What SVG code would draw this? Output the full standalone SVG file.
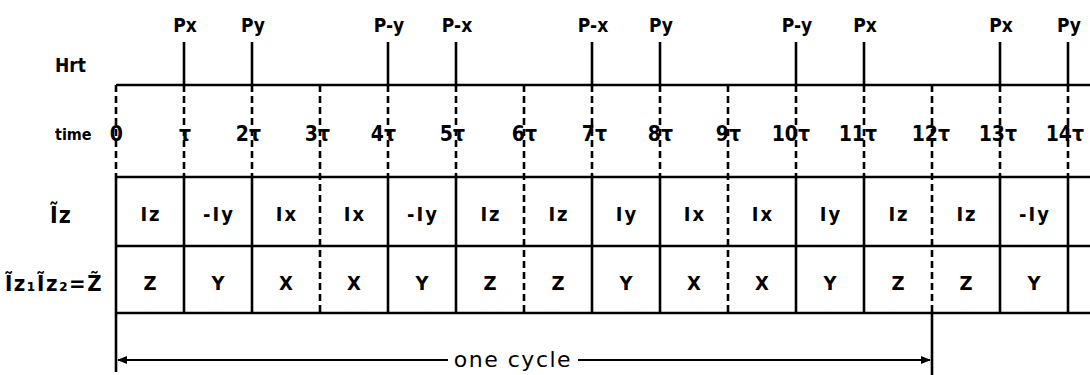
<svg xmlns="http://www.w3.org/2000/svg" width="1090" height="375" viewBox="0 0 1090 375">
<style>
.t{font-family:"DejaVu Sans Condensed","DejaVu Sans",sans-serif;font-weight:bold;fill:#000}
.p{font-size:19px;text-anchor:middle}
.tm{font-size:21px;text-anchor:end}
.c{font-size:20px;text-anchor:middle;letter-spacing:2px}
.s{stroke:#000;stroke-width:2.6;fill:none}
.d{stroke:#000;stroke-width:2.6;fill:none;stroke-dasharray:7 4}
.a{stroke:#000;stroke-width:1.8;fill:none}
</style>
<defs>
<marker id="ah" markerWidth="10" markerHeight="8" refX="9" refY="4" orient="auto" markerUnits="userSpaceOnUse">
<path d="M0,0 L10,4 L0,8 Z" fill="#000"/>
</marker>
</defs>
<rect width="1090" height="375" fill="#fff"/>
<g id="labels">
<text class="t" x="55" y="72" font-size="19">Hrt</text>
<text class="t" x="55" y="140" font-size="16">time</text>
<text class="t" x="50" y="223" font-size="23" letter-spacing="1">Ĩz</text>
<text class="t" x="5" y="291" font-size="22" letter-spacing="1.5">Ĩz₁Ĩz₂=Z̃</text>
</g>
<g id="hrt">
<line class="s" x1="116" y1="85" x2="1090" y2="85"/>
<line class="s" x1="184" y1="42" x2="184" y2="85"/>
<line class="s" x1="252" y1="42" x2="252" y2="85"/>
<line class="s" x1="388" y1="42" x2="388" y2="85"/>
<line class="s" x1="456" y1="42" x2="456" y2="85"/>
<line class="s" x1="592" y1="42" x2="592" y2="85"/>
<line class="s" x1="660" y1="42" x2="660" y2="85"/>
<line class="s" x1="796" y1="42" x2="796" y2="85"/>
<line class="s" x1="864" y1="42" x2="864" y2="85"/>
<line class="s" x1="1000" y1="42" x2="1000" y2="85"/>
<line class="s" x1="1068" y1="42" x2="1068" y2="85"/>
<text class="t p" x="185" y="32">Px</text>
<text class="t p" x="253" y="32">Py</text>
<text class="t p" x="389" y="32">P-y</text>
<text class="t p" x="457" y="32">P-x</text>
<text class="t p" x="593" y="32">P-x</text>
<text class="t p" x="661" y="32">Py</text>
<text class="t p" x="797" y="32">P-y</text>
<text class="t p" x="865" y="32">Px</text>
<text class="t p" x="1001" y="32">Px</text>
<text class="t p" x="1069" y="32">Py</text>
</g>
<g id="time">
<text class="t tm" x="123" y="141">0</text>
<text class="t tm" x="191" y="141">τ</text>
<text class="t tm" x="261" y="141">2τ</text>
<text class="t tm" x="330" y="141">3τ</text>
<text class="t tm" x="396" y="141">4τ</text>
<text class="t tm" x="465" y="141">5τ</text>
<text class="t tm" x="537" y="141">6τ</text>
<text class="t tm" x="607" y="141">7τ</text>
<text class="t tm" x="673" y="141">8τ</text>
<text class="t tm" x="741" y="141">9τ</text>
<text class="t tm" x="810" y="141">10τ</text>
<text class="t tm" x="877" y="141">11τ</text>
<text class="t tm" x="950" y="141">12τ</text>
<text class="t tm" x="1017" y="141">13τ</text>
<text class="t tm" x="1084" y="141">14τ</text>
</g>
<g id="grid">
<path class="d" d="M116,85V177M184,85V177M252,85V177M320,85V313M388,85V177M456,85V177M524,85V313M592,85V177M660,85V177M728,85V313M796,85V177M864,85V177M932,85V313M1000,85V177M1068,85V177"/>
<path class="s" d="M116,177H1090M116,246H1090M116,313H1090"/>
<path class="s" d="M116,177V372M184,177V313M252,177V313M388,177V313M456,177V313M592,177V313M660,177V313M796,177V313M864,177V313M1000,177V313M1068,177V313M932,313V375"/>
</g>
<g id="row1">
<text class="t c" x="151" y="221">Iz</text>
<text class="t c" x="219" y="221">-Iy</text>
<text class="t c" x="287" y="221">Ix</text>
<text class="t c" x="355" y="221">Ix</text>
<text class="t c" x="423" y="221">-Iy</text>
<text class="t c" x="491" y="221">Iz</text>
<text class="t c" x="559" y="221">Iz</text>
<text class="t c" x="627" y="221">Iy</text>
<text class="t c" x="695" y="221">Ix</text>
<text class="t c" x="763" y="221">Ix</text>
<text class="t c" x="831" y="221">Iy</text>
<text class="t c" x="899" y="221">Iz</text>
<text class="t c" x="967" y="221">Iz</text>
<text class="t c" x="1035" y="221">-Iy</text>
</g>
<g id="row2">
<text class="t c" x="151" y="290">Z</text>
<text class="t c" x="219" y="290">Y</text>
<text class="t c" x="287" y="290">X</text>
<text class="t c" x="355" y="290">X</text>
<text class="t c" x="423" y="290">Y</text>
<text class="t c" x="491" y="290">Z</text>
<text class="t c" x="559" y="290">Z</text>
<text class="t c" x="627" y="290">Y</text>
<text class="t c" x="695" y="290">X</text>
<text class="t c" x="763" y="290">X</text>
<text class="t c" x="831" y="290">Y</text>
<text class="t c" x="899" y="290">Z</text>
<text class="t c" x="967" y="290">Z</text>
<text class="t c" x="1035" y="290">Y</text>
</g>
<g id="cycle">
<line class="a" x1="448" y1="360" x2="118" y2="360" marker-end="url(#ah)"/>
<line class="a" x1="578" y1="360" x2="930" y2="360" marker-end="url(#ah)"/>
<text x="513" y="367" font-family="DejaVu Sans, sans-serif" font-size="22" letter-spacing="1.5" text-anchor="middle">one cycle</text>
</g>
</svg>
